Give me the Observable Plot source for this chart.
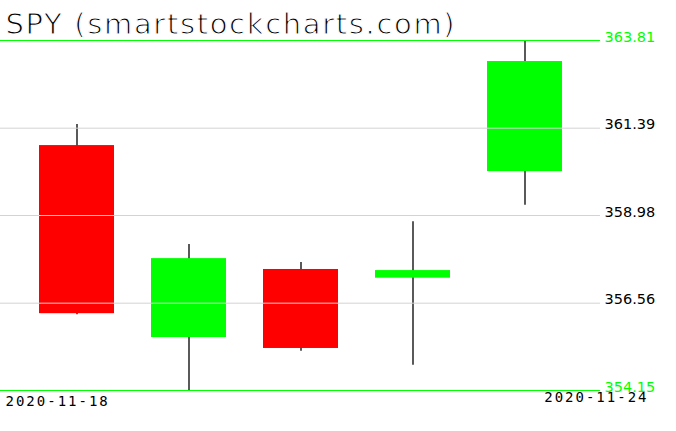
<!DOCTYPE html>
<html>
<head>
<meta charset="utf-8">
<script src="https://cdn.jsdelivr.net/npm/d3@7"></script>
<script src="https://cdn.jsdelivr.net/npm/@observablehq/plot@0.6"></script>
<style>
  body { margin: 0; background: #fff; }
</style>
</head>
<body>
<div id="chart"></div>
<script>
const title = "SPY (smartstockcharts.com)";
const dates = ["2020-11-18", "2020-11-19", "2020-11-20", "2020-11-23", "2020-11-24"];
const open  = [360.91, 355.61, 357.49, 357.25, 360.19];
const high  = [361.49, 358.18, 357.68, 358.81, 363.81];
const low   = [356.24, 354.15, 355.23, 354.85, 359.26];
const close = [356.27, 357.79, 355.31, 357.46, 363.23];
const yTicks = [363.81, 361.39, 358.98, 356.56, 354.15];
const gridTicks = [361.39, 358.98, 356.56];
const edgeTicks = [363.81, 354.15];
const firstDate = dates[0];
const lastDate = dates[dates.length - 1];

const data = dates.map((d, i) => ({date: d, open: open[i], high: high[i], low: low[i], close: close[i]}));
const green = "#00ff00", red = "#ff0000";

const chart = Plot.plot({
  width: 676,
  height: 431,
  marginLeft: 0,
  marginRight: 76,
  marginTop: 40,
  marginBottom: 41,
  style: {background: "#fff", fontFamily: "DejaVu Sans", overflow: "visible"},
  x: {type: "band", domain: dates, padding: 1/3, axis: null},
  y: {domain: [yTicks[yTicks.length - 1], yTicks[0]], axis: null},
  marks: [
    Plot.ruleX(data, {x: "date", y1: "low", y2: "high", stroke: "#000", strokeWidth: 1.3}),
    Plot.barY(data, {x: "date", y1: "open", y2: "close", fill: d => d.close >= d.open ? green : red}),
    Plot.ruleY(gridTicks, {stroke: "#d3d3d3", strokeWidth: 1}),
    Plot.ruleY(edgeTicks, {stroke: green, strokeWidth: 1.2}),
    Plot.text(yTicks, {y: d => d, text: d => d.toFixed(2), frameAnchor: "right", textAnchor: "start", lineAnchor: "bottom", dx: 4, dy: 1, fontSize: 14.5, fill: d => edgeTicks.includes(d) ? green : "#000"}),
    Plot.text([firstDate], {text: d => d, frameAnchor: "bottom-left", textAnchor: "start", lineAnchor: "bottom", dx: 5, dy: 15, fontSize: 14, fontFamily: "DejaVu Sans Mono", fill: "#000"}),
    Plot.text([lastDate], {text: d => d, frameAnchor: "bottom-right", textAnchor: "end", lineAnchor: "bottom", dx: 48, dy: 11, fontSize: 14, fontFamily: "DejaVu Sans Mono", fill: "#000"}),
    Plot.text([title], {text: d => d, frameAnchor: "top-left", textAnchor: "start", lineAnchor: "bottom", dx: 5, dy: -7, fontSize: 29, fill: "#000", stroke: "#fff", strokeWidth: 1.1})
  ]
});
// text styling that Plot has no option for
d3.select(chart).selectAll("text").each(function() {
  const t = this.textContent;
  if (t === firstDate || t === lastDate) this.style.letterSpacing = "2px";
  if (t === title) { this.style.letterSpacing = "1.65px"; this.setAttribute("paint-order", "normal"); }
});
document.getElementById("chart").appendChild(chart);
</script>
</body>
</html>
